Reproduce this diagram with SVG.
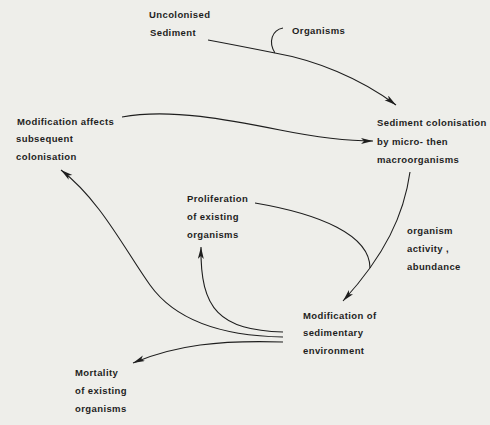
<svg xmlns="http://www.w3.org/2000/svg" width="490" height="425" viewBox="0 0 490 425">
<style>
text{font-family:"Liberation Sans",Arial,sans-serif;font-size:9.5px;font-weight:bold;fill:#1e1e1e;letter-spacing:0.4px}
.c{fill:none;stroke:#1e1e1e;stroke-width:1.1}
.a{marker-end:url(#ah)}
</style>
<defs>
<marker id="ah" markerUnits="userSpaceOnUse" markerWidth="13" markerHeight="7" refX="12" refY="3" orient="auto">
<path d="M0,0 L12,3 L0,6 L3,3 z" fill="#1e1e1e"/>
</marker>
</defs>
<rect width="490" height="425" fill="#eeeeea"/>
<g id="connectors">
<path class="c a" d="M208,40 C235,45 255,49 275,53 C315,60 360,78 396,105"/>
<path class="c" d="M283,28 C272,30 268,42 275,53"/>
<path class="c a" d="M122,117 C170,108 230,120 280,130 C320,138 345,141 373,141"/>
<path class="c a" d="M410,172 C404,215 385,255 343,301"/>
<path class="c" d="M255,203 C320,214 370,235 370,268"/>
<path class="c a" d="M283,337 C220,336 175,320 150,285 C125,250 100,200 61,170"/>
<path class="c a" d="M283,332 C220,330 200,310 201,247"/>
<path class="c a" d="M283,342 C220,340 175,345 133,363"/>
</g>
<g id="uncolonised"><text x="149" y="18">Uncolonised</text><text x="150" y="36">Sediment</text></g>
<g id="organisms"><text x="292" y="34">Organisms</text></g>
<g id="modification-affects"><text x="17" y="125">Modification affects</text><text x="16" y="142">subsequent</text><text x="16" y="160">colonisation</text></g>
<g id="sediment-colonisation"><text x="377" y="126">Sediment colonisation</text><text x="377" y="145">by micro- then</text><text x="377" y="163">macroorganisms</text></g>
<g id="proliferation"><text x="187" y="202">Proliferation</text><text x="187" y="220">of existing</text><text x="187" y="238">organisms</text></g>
<g id="activity"><text x="407" y="234">organism</text><text x="407" y="252">activity ,</text><text x="407" y="270">abundance</text></g>
<g id="modification-env"><text x="303" y="319">Modification of</text><text x="303" y="336">sedimentary</text><text x="303" y="354">environment</text></g>
<g id="mortality"><text x="75" y="376">Mortality</text><text x="75" y="394">of existing</text><text x="75" y="412">organisms</text></g>
</svg>
